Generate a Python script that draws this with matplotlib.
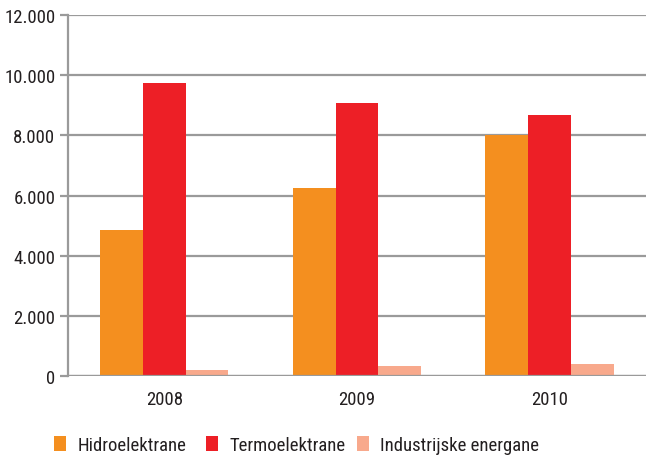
import matplotlib
matplotlib.use("Agg")
import matplotlib.pyplot as plt
from matplotlib.ticker import FuncFormatter
from matplotlib import font_manager as fm
import numpy as np

# pick a condensed sans font if available
def pick_font():
    prefs = ['Liberation Sans Narrow', 'Roboto Condensed', 'Open Sans Condensed',
             'DejaVu Sans Condensed', 'Noto Sans Condensed']
    entries = fm.fontManager.ttflist
    for p in prefs:
        for f in entries:
            if f.name == p and f.style == 'normal' and f.weight in (400, 'normal', 500, 'medium'):
                return fm.FontProperties(fname=f.fname)
    for f in entries:
        if f.style == 'normal' and f.weight in (400, 'normal') and \
           (f.stretch in ('condensed', 'semi-condensed', 'extra-condensed') or
            'Condensed' in f.fname or 'Narrow' in f.fname):
            return fm.FontProperties(fname=f.fname)
    return None

years = ['2008', '2009', '2010']
series_names = ['Hidroelektrane', 'Termoelektrane', 'Industrijske energane']
hidro = [4850, 6240, 8010]
termo = [9740, 9090, 8680]
industrijske = [200, 320, 390]
colors = ['#F48F1F', '#ED1F26', '#F8A98C']

fp = pick_font()
if fp is not None:
    fs = 13.5
    fam = fp.get_name()
    plt.rcParams['font.family'] = [fam, 'DejaVu Sans']
    plt.rcParams['font.stretch'] = fp.get_stretch()
else:
    fs = 12
    plt.rcParams['font.family'] = ['Liberation Sans', 'DejaVu Sans']

fig = plt.figure(figsize=(6.46, 4.56), dpi=100)
ax = fig.add_axes([0.105, 0.173, 0.895, 0.792])

x = np.arange(len(years))
w = 0.222
bars = []
for i, (vals, name, c) in enumerate(zip([hidro, termo, industrijske], series_names, colors)):
    bars.append(ax.bar(x + (i - 1) * w, vals, width=w, color=c, label=name, zorder=3))

ax.set_xlim(-0.5, 2.5)
ax.set_ylim(0, 12000)
ax.set_yticks(np.arange(0, 12001, 2000))
ax.yaxis.set_major_formatter(FuncFormatter(lambda v, p: f"{int(v):,}".replace(',', '.')))
ax.set_xticks(x)
ax.set_xticklabels(years)

gc = '#9a9a9a'
ax.grid(axis='y', color=gc, linewidth=1.6, zorder=1)
for s in ['top', 'right', 'bottom']:
    ax.spines[s].set_visible(False)
ax.spines['left'].set_color(gc)
ax.spines['left'].set_linewidth(1.6)
ax.axhline(0, color=gc, linewidth=1.6, zorder=4)
ax.tick_params(axis='y', length=6, width=1.6, color=gc, labelsize=fs, labelcolor='#231f20', pad=3)
ax.tick_params(axis='x', length=0, labelsize=fs, labelcolor='#231f20', pad=10)

leg_x = [54, 206, 357]
for b, name, lx in zip(bars, series_names, leg_x):
    fig.legend([b], [name], loc='center left', bbox_to_anchor=(lx / 646, 1 - 446 / 456),
               frameon=False, fontsize=fs, handlelength=0.65, handleheight=0.85,
               handletextpad=0.6, borderpad=0, borderaxespad=0, labelcolor='#231f20')

fig.savefig('out.png', dpi=100)
